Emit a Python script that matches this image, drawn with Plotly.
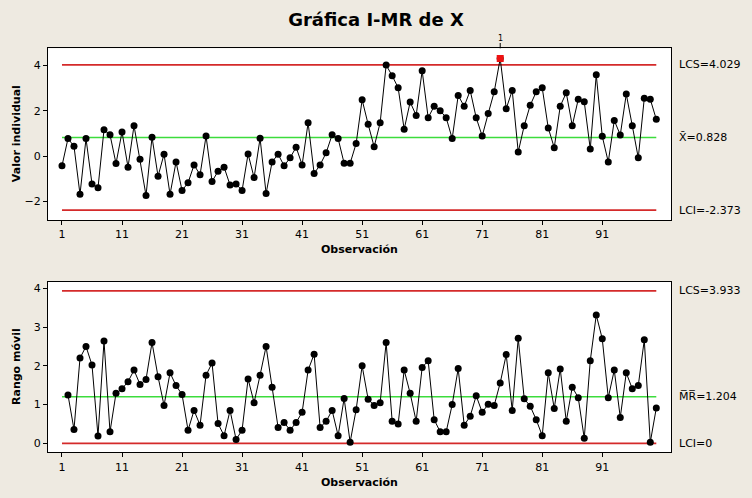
import plotly.graph_objects as go

# ---------------- data ----------------
obs = list(range(1, 101))
valor_individual = [
    -0.42, 0.78, 0.44, -1.68, 0.78, -1.22, -1.39, 1.17, 0.95, -0.32,
    1.07, -0.48, 1.35, -0.13, -1.73, 0.84, -0.88, 0.09, -1.68, -0.25,
    -1.51, -1.17, -0.38, -0.82, 0.89, -1.11, -0.66, -0.48, -1.27, -1.22,
    -1.51, 0.10, -0.94, 0.79, -1.64, -0.25, 0.09, -0.42, -0.07, 0.40,
    -0.38, 1.48, -0.76, -0.38, 0.15, 0.95, 0.78, -0.31, -0.31, 0.56,
    2.49, 1.41, 0.42, 1.48, 4.02, 3.55, 3.02, 1.19, 2.39, 1.80,
    3.77, 1.70, 2.21, 2.01, 1.70, 0.78, 2.68, 2.20, 2.90, 1.70,
    0.89, 1.88, 2.84, 4.31, 2.10, 2.90, 0.19, 1.35, 2.25, 2.84,
    3.02, 1.25, 0.38, 2.21, 2.80, 1.35, 2.51, 2.40, 0.32, 3.59,
    0.88, -0.25, 1.58, 0.94, 2.74, 1.35, -0.07, 2.56, 2.51, 1.63,
]
obs_mr = list(range(2, 101))
rango_movil = [
    1.25, 0.36, 2.20, 2.50, 2.02, 0.19, 2.64, 0.30, 1.29,
    1.41, 1.59, 1.89, 1.52, 1.65, 2.60, 1.72, 0.98, 1.82, 1.49,
    1.26, 0.34, 0.85, 0.47, 1.76, 2.07, 0.51, 0.20, 0.85, 0.10,
    0.34, 1.66, 1.05, 1.76, 2.50, 1.45, 0.41, 0.54, 0.34, 0.54,
    0.80, 1.89, 2.30, 0.41, 0.57, 0.85, 0.20, 1.16, 0.03, 0.87,
    2.00, 1.14, 0.98, 1.05, 2.60, 0.57, 0.50, 1.89, 1.29, 0.57,
    1.96, 2.13, 0.61, 0.30, 0.30, 1.00, 1.93, 0.47, 0.70, 1.23,
    0.80, 1.01, 0.98, 1.56, 2.29, 0.85, 2.71, 1.15, 0.96, 0.61,
    0.20, 1.82, 0.90, 1.92, 0.57, 1.45, 1.18, 0.13, 2.13, 3.31,
    2.70, 1.18, 1.89, 0.67, 1.82, 1.41, 1.49, 2.67, 0.03, 0.91,
]
lcs_i, media_i, lci_i = 4.029, 0.828, -2.373
lcs_mr, media_mr, lci_mr = 3.933, 1.204, 0.0
x_ticks = [1, 11, 21, 31, 41, 51, 61, 71, 81, 91]
y_ticks_i = [-2, 0, 2, 4]
y_ticks_mr = [0, 1, 2, 3, 4]
fuera_x = [74]
fuera_y = [4.31]

RED = "#D42A2A"
GREEN = "#3CDC3C"
BG = "#EEEAE1"
FONT = "DejaVu Sans"

fig = go.Figure()

def hline(y, color, xa, ya):
    fig.add_trace(go.Scatter(x=[1, 100], y=[y, y], mode="lines",
                             line=dict(color=color, width=1.6),
                             xaxis=xa, yaxis=ya, hoverinfo="skip", showlegend=False))

hline(lcs_i, RED, "x", "y")
hline(lci_i, RED, "x", "y")
hline(media_i, GREEN, "x", "y")
hline(lcs_mr, RED, "x2", "y2")
hline(lci_mr, RED, "x2", "y2")
hline(media_mr, GREEN, "x2", "y2")

fig.add_trace(go.Scatter(x=obs, y=valor_individual, mode="lines+markers",
                         line=dict(color="black", width=1),
                         marker=dict(color="black", size=7),
                         xaxis="x", yaxis="y", showlegend=False))
fig.add_trace(go.Scatter(x=fuera_x, y=fuera_y, mode="markers",
                         marker=dict(color="#EE1111", size=7, symbol="square"),
                         xaxis="x", yaxis="y", showlegend=False, cliponaxis=False))
fig.add_trace(go.Scatter(x=obs_mr, y=rango_movil, mode="lines+markers",
                         line=dict(color="black", width=1),
                         marker=dict(color="black", size=7),
                         xaxis="x2", yaxis="y2", showlegend=False))

W, H = 752, 498
px = lambda v: v / W
py = lambda v: 1 - v / H

axis_common = dict(showline=True, mirror=True, linecolor="black", linewidth=1,
                   ticks="outside", ticklen=4, tickcolor="black",
                   showgrid=False, zeroline=False,
                   tickfont=dict(family=FONT, size=11, color="black"))

fig.update_layout(
    width=W, height=H, margin=dict(l=0, r=0, t=0, b=0),
    paper_bgcolor=BG, plot_bgcolor="white",
    font=dict(family=FONT, color="black"),
    xaxis=dict(domain=[px(48), px(671)], range=[-1.33, 102.45],
               tickvals=x_ticks, anchor="y", **axis_common),
    yaxis=dict(domain=[py(220), py(48.3)], range=[-2.81, 4.76],
               tickvals=y_ticks_i, anchor="x", **axis_common),
    xaxis2=dict(domain=[px(48), px(671)], range=[-1.33, 102.45],
                tickvals=x_ticks, anchor="y2", **axis_common),
    yaxis2=dict(domain=[py(452.3), py(281.7)], range=[-0.23, 4.17],
                tickvals=y_ticks_mr, anchor="x2", **axis_common),
    title=dict(text="<b>Gráfica I-MR de X</b>", x=0.5, xanchor="center",
               y=py(20), yanchor="middle",
               font=dict(family=FONT, size=18, color="black")),
)

ann = []
lab_font = dict(family=FONT, size=11, color="black")
def right_label(text, y, yref):
    ann.append(dict(text=text, x=px(677), xref="paper", xanchor="left",
                    y=y, yref=yref, yanchor="middle", showarrow=False, font=lab_font))

right_label("LCS=4.029", lcs_i, "y")
right_label("X\u0304=0.828", media_i, "y")
right_label("LCI=-2.373", lci_i, "y")
right_label("LCS=3.933", lcs_mr, "y2")
right_label("M\u0305R\u0305=1.204", media_mr, "y2")
right_label("LCI=0", lci_mr, "y2")

bold_font = dict(family=FONT, size=11, color="black")
ann.append(dict(text="<b>Observación</b>", x=(px(48) + px(671)) / 2, xref="paper",
                y=py(249), yref="paper", yanchor="middle", showarrow=False, font=bold_font))
ann.append(dict(text="<b>Observación</b>", x=(px(48) + px(671)) / 2, xref="paper",
                y=py(482), yref="paper", yanchor="middle", showarrow=False, font=bold_font))
ann.append(dict(text="<b>Valor individual</b>", x=px(16), xref="paper", xanchor="center",
                y=(py(220) + py(48.3)) / 2, yref="paper", yanchor="middle",
                textangle=-90, showarrow=False, font=bold_font))
ann.append(dict(text="<b>Rango móvil</b>", x=px(16), xref="paper", xanchor="center",
                y=(py(452.3) + py(281.7)) / 2, yref="paper", yanchor="middle",
                textangle=-90, showarrow=False, font=bold_font))
# out-of-control marker label
ann.append(dict(text="1", x=fuera_x[0], xref="x", y=py(38), yref="paper",
                yanchor="middle", showarrow=False,
                font=dict(family=FONT, size=8, color="black")))
fig.update_layout(annotations=ann)

fig.add_shape(type="line", xref="x", yref="paper", x0=fuera_x[0], x1=fuera_x[0],
              y0=py(48.3), y1=py(43), line=dict(color="black", width=1))

fig.write_html("out.html")
